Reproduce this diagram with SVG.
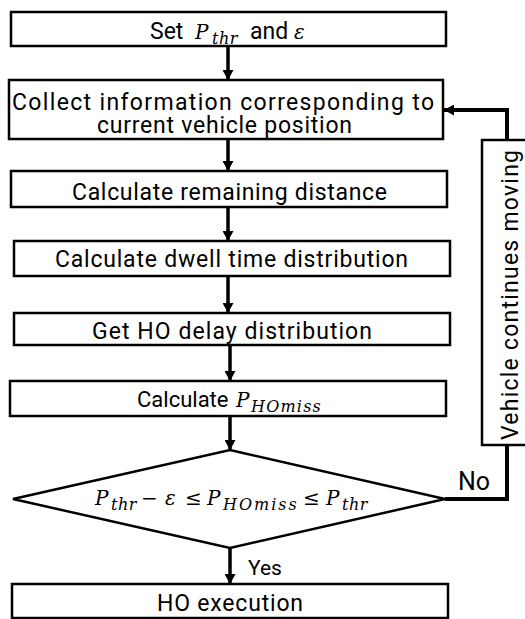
<svg xmlns="http://www.w3.org/2000/svg" width="525" height="619" viewBox="0 0 525 619">
  <style>
    .box { fill: #fff; stroke: #000; stroke-width: 2.5; }
    .lbl { font-family: Roboto, "Noto Sans", sans-serif; font-size: 23px; fill: #000; }
    .math { font-family: "DejaVu Serif", "Liberation Serif", serif; font-style: italic; font-size: 20px; fill: #000; }
    .sub { font-size: 16px; }
    .op { font-style: normal; }
    .flow { fill: none; stroke: #000; stroke-width: 3.5; }
    .loop { fill: none; stroke: #000; stroke-width: 4; }
  </style>
  <defs>
    <marker id="arrow" markerWidth="11" markerHeight="11" refX="10" refY="5.5" orient="auto" markerUnits="userSpaceOnUse">
      <path d="M0,0 L10,5.5 L0,11 Z" fill="#000"/>
    </marker>
  </defs>

  <g id="connectors">
    <line class="flow" x1="228" y1="46" x2="228" y2="80" marker-end="url(#arrow)"/>
    <line class="flow" x1="228" y1="139" x2="228" y2="171" marker-end="url(#arrow)"/>
    <line class="flow" x1="228" y1="207" x2="228" y2="241" marker-end="url(#arrow)"/>
    <line class="flow" x1="228" y1="276" x2="228" y2="313" marker-end="url(#arrow)"/>
    <line class="flow" x1="230" y1="345" x2="230" y2="381" marker-end="url(#arrow)"/>
    <line class="flow" x1="230" y1="416" x2="230" y2="450" marker-end="url(#arrow)"/>
    <line class="flow" x1="230" y1="548" x2="230" y2="584" marker-end="url(#arrow)"/>
    <!-- "No" branch back up to the data collection step -->
    <polyline class="loop" points="445,499 507,499 507,445"/>
    <polyline class="loop" points="507,140 507,110 444,110" marker-end="url(#arrow)"/>
  </g>

  <g id="set-threshold">
    <rect class="box" x="11" y="12" width="435" height="34"/>
    <text class="lbl" x="150" y="39">Set</text>
    <text class="math" y="39"><tspan x="195">P</tspan><tspan class="sub" x="212" y="44" letter-spacing="0.5">thr</tspan></text>
    <text class="lbl" x="250" y="39">and</text>
    <text class="math" x="294" y="39">ε</text>
  </g>

  <g id="collect-info">
    <rect class="box" x="9" y="80" width="434" height="59"/>
    <text class="lbl" x="12" y="110" textLength="422" lengthAdjust="spacing">Collect information corresponding to</text>
    <text class="lbl" x="97" y="133" textLength="255" lengthAdjust="spacing">current vehicle position</text>
  </g>

  <g id="remaining-distance">
    <rect class="box" x="11" y="171" width="436" height="36"/>
    <text class="lbl" x="72" y="200" textLength="315" lengthAdjust="spacing">Calculate remaining distance</text>
  </g>

  <g id="dwell-time">
    <rect class="box" x="14" y="241" width="436" height="35"/>
    <text class="lbl" x="55" y="267" textLength="353" lengthAdjust="spacing">Calculate dwell time distribution</text>
  </g>

  <g id="ho-delay">
    <rect class="box" x="14" y="313" width="436" height="32"/>
    <text class="lbl" x="92" y="339" textLength="280" lengthAdjust="spacing">Get HO delay distribution</text>
  </g>

  <g id="ho-miss">
    <rect class="box" x="10" y="381" width="436" height="35"/>
    <text class="lbl" x="137" y="407" style="font-size:22px">Calculate</text>
    <text class="math" y="407"><tspan x="236">P</tspan><tspan class="sub" x="251" y="412" letter-spacing="1.2">HOmiss</tspan></text>
  </g>

  <g id="decision">
    <polygon class="box" points="230,450 445,499 230,548 13,499"/>
    <text class="math" y="505"><tspan x="95">P</tspan><tspan class="sub" x="111" y="510" letter-spacing="0.5">thr</tspan><tspan class="op" x="141" y="505">−</tspan><tspan x="165">ε</tspan><tspan class="op" x="185">≤</tspan><tspan x="207">P</tspan><tspan class="sub" x="223" y="510" letter-spacing="2">HOmiss</tspan><tspan class="op" x="303" y="505">≤</tspan><tspan x="326">P</tspan><tspan class="sub" x="342" y="510" letter-spacing="0.5">thr</tspan></text>
  </g>

  <g id="vehicle-moving">
    <rect class="box" x="482" y="140" width="50" height="305"/>
    <text class="lbl" transform="translate(518,440) rotate(-90)" textLength="290" lengthAdjust="spacing">Vehicle continues moving</text>
  </g>

  <g id="ho-execution">
    <rect class="box" x="12" y="584" width="436" height="34"/>
    <text class="lbl" x="157" y="611" textLength="146" lengthAdjust="spacing">HO execution</text>
  </g>

  <g id="branch-labels">
    <text class="lbl" x="458" y="490" style="font-size:25px">No</text>
    <text class="lbl" x="248" y="575" style="font-size:21px">Yes</text>
  </g>
</svg>
